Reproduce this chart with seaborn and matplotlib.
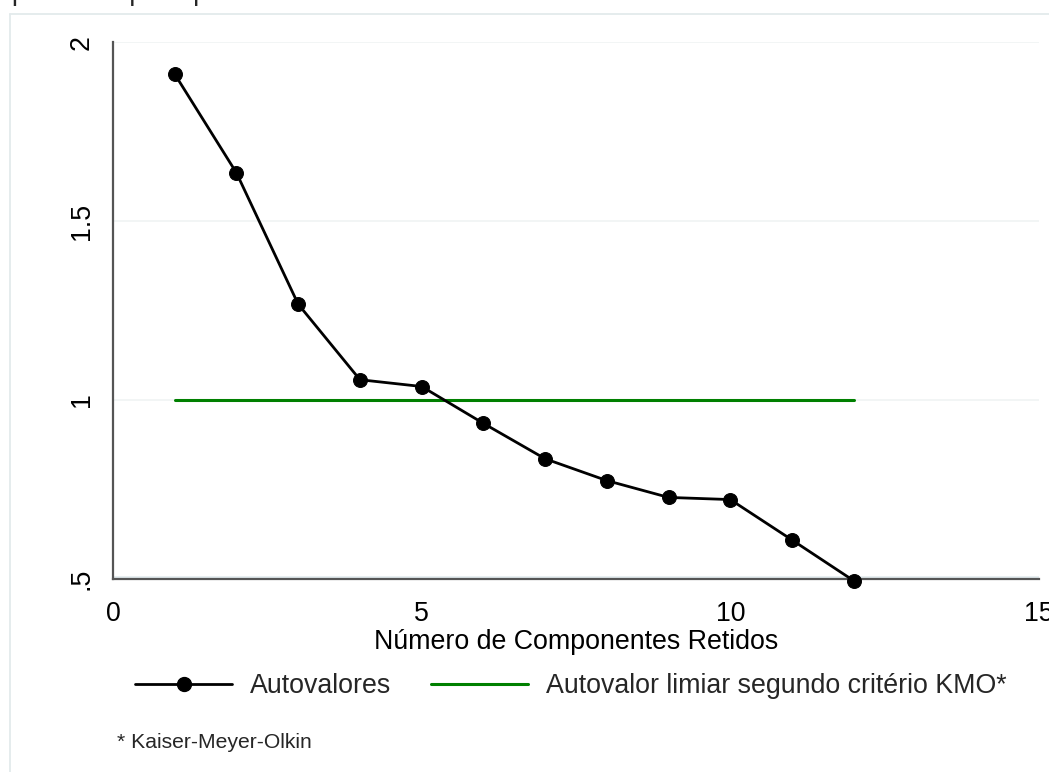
import matplotlib
matplotlib.use("Agg")
import matplotlib.pyplot as plt
import seaborn as sns
import pandas as pd
from matplotlib.lines import Line2D

# ---- data ----
componentes = [1, 2, 3, 4, 5, 6, 7, 8, 9, 10, 11, 12]
autovalores = [1.911, 1.635, 1.268, 1.057, 1.038, 0.935, 0.836, 0.775, 0.728, 0.722, 0.609, 0.495]
limiar_x = [1, 12]
limiar_y = [1, 1]
xticks = [0, 5, 10, 15]
yticks = [0.5, 1, 1.5, 2]
ytick_labels = [".5", "1", "1.5", "2"]
label_series = "Autovalores"
label_limiar = "Autovalor limiar segundo critério KMO*"
xlabel = "Número de Componentes Retidos"
footnote = "* Kaiser-Meyer-Olkin"
title_fragment = "ponentes principais"

sns.set_theme(style="white")
plt.rcParams["font.family"] = ["Liberation Sans", "DejaVu Sans"]

W, H = 1049, 772
fig = plt.figure(figsize=(W / 100, H / 100), dpi=100)
ax = fig.add_axes([113 / W, 1 - 579 / H, (1039 - 113) / W, (579 - 42.3) / H])

df = pd.DataFrame({"comp": componentes, "val": autovalores})
dfl = pd.DataFrame({"comp": limiar_x, "val": limiar_y})

sns.lineplot(data=dfl, x="comp", y="val", ax=ax, color="#008000", lw=2.2, zorder=3)
sns.lineplot(data=df, x="comp", y="val", ax=ax, color="black", lw=2.0,
             marker="o", markersize=10, markeredgecolor="black", zorder=4,
             clip_on=False)

ax.set_xlim(0, 15)
ax.set_ylim(0.5, 2)
ax.set_xticks(xticks)
ax.set_xticklabels([str(t) for t in xticks])
ax.set_yticks(yticks)
ax.set_yticklabels(ytick_labels, rotation=90, va="center")

for s in ["top", "right"]:
    ax.spines[s].set_visible(False)
for s in ["left", "bottom"]:
    ax.spines[s].set_color("#555555")
    ax.spines[s].set_linewidth(1.6)
ax.spines["bottom"].set_zorder(2.5)

ax.tick_params(axis="both", which="major", direction="out", length=7, width=1.3,
               color="#555555", labelsize=19.3, labelcolor="black")
ax.tick_params(axis="y", pad=6)
ax.tick_params(axis="x", pad=8.5)
ax.yaxis.grid(True, color="#f1f4f5", lw=1.3)
ax.xaxis.grid(False)
ax.set_axisbelow(True)
# light band of the .5 gridline just above the axis
ax.axhline(yticks[0], color="#e2ebee", lw=4, zorder=0.5)

ax.set_xlabel(xlabel, fontsize=19.3, labelpad=1.5, color="black")
ax.set_ylabel("")

handles = [
    Line2D([], [], color="black", lw=2.0, marker="o", markersize=10),
    Line2D([], [], color="#008000", lw=2.2),
]
fig.legend(handles, [label_series, label_limiar], loc="center left",
           bbox_to_anchor=(135 / W, 1 - 686 / H), ncol=2, frameon=False,
           fontsize=19.3, handlelength=3.62, handletextpad=0.67, columnspacing=1.49,
           borderpad=0, borderaxespad=0)
if ax.get_legend() is not None:
    ax.get_legend().remove()

fig.text(117 / W, 1 - 743 / H, footnote, fontsize=15.2, va="center", ha="left")

# clipped title fragment at very top (only descenders visible)
fig.text(12 / W, 1 + 0.5 / H, title_fragment, fontsize=19.3, va="baseline", ha="left")

# outer graph-region frame (left and top edges visible)
fig.add_artist(Line2D([10 / W, 10 / W], [0, 1 - 14 / H], transform=fig.transFigure,
                      color="#e3eaec", lw=1.3))
fig.add_artist(Line2D([10 / W, 1], [1 - 14 / H, 1 - 14 / H], transform=fig.transFigure,
                      color="#e3eaec", lw=1.3))

fig.savefig("out.png", dpi=100, facecolor="white")
